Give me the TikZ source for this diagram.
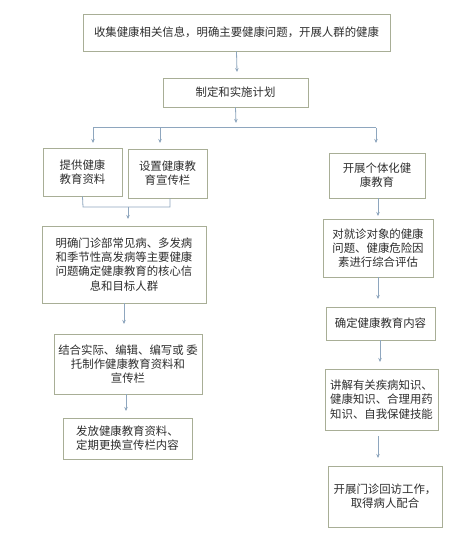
\documentclass[tikz,border=0pt]{standalone}
\usepackage{fontspec}
\setmainfont{Noto Sans CJK SC}
\usetikzlibrary{arrows.meta}
\definecolor{boxc}{HTML}{A8AE96}
\definecolor{linec}{HTML}{8EA6BE}
\definecolor{txtc}{HTML}{2E2E2E}
\tikzset{
  bx/.style={draw=boxc, line width=0.9pt, fill=white, align=center, inner sep=0pt,
    text=txtc, font=\fontsize{11.4}{14.2}\selectfont},
  ln/.style={draw=linec, line width=0.8pt},
  ar/.style={ln, -{Stealth[length=4pt,width=3.5pt]}}
}
\begin{document}
\begin{tikzpicture}[x=1pt,y=-1pt]
\useasboundingbox[fill=white] (0,0) rectangle (466,544);
% nodes
\node[bx, minimum width=307pt, minimum height=37pt] (b1) at (236.5,32.5) {收集健康相关信息，明确主要健康问题，开展人群的健康};
\node[bx, minimum width=145pt, minimum height=29pt] (b2) at (235.5,92.5) {制定和实施计划};
\node[bx, minimum width=79pt, minimum height=48pt] (b3) at (82.5,172) {提供健康\\教育资料};
\node[bx, minimum width=79pt, minimum height=49pt] (b4) at (167.5,173.5) {设置健康教\\育宣传栏};
\node[bx, minimum width=96pt, minimum height=45pt] (b5) at (377,175.5) {开展个体化健\\康教育};
\node[bx, minimum width=164pt, minimum height=77pt] (b6) at (124,264.5) {明确门诊部常见病、多发病\\和季节性高发病等主要健康\\问题确定健康教育的核心信\\息和目标人群};
\node[bx, minimum width=110pt, minimum height=58pt] (b7) at (378,248) {对就诊对象的健康\\问题、健康危险因\\素进行综合评估};
\node[bx, minimum width=109pt, minimum height=33pt] (b8) at (380.5,323.5) {确定健康教育内容};
\node[bx, minimum width=148pt, minimum height=60pt] (b9) at (128,364) {结合实际、编辑、编写或 委\\托制作健康教育资料和\\宣传栏};
\node[bx, minimum width=129pt, minimum height=41pt] (b10) at (127.5,438.5) {发放健康教育资料、\\定期更换宣传栏内容};
\node[bx, minimum width=113pt, minimum height=61pt] (b11) at (381.5,399.5) {讲解有关疾病知识、\\健康知识、合理用药\\知识、自我保健技能};
\node[bx, minimum width=114pt, minimum height=61pt] (b12) at (385,496.5) {开展门诊回访工作，\\取得病人配合};
% coordinates
\coordinate (a1) at (237,72);
\coordinate (a2) at (236,123);
\coordinate (hl) at (93,127.5);
\coordinate (hm) at (160,127.5);
\coordinate (hr) at (376,127.5);
\coordinate (e3) at (93,143);
\coordinate (e4) at (160,143);
\coordinate (e5) at (376,143);
\coordinate (k1) at (83,207);
\coordinate (k2) at (170,207);
\coordinate (km) at (128,207);
\coordinate (e6) at (128,219);
\coordinate (e7) at (378,216);
\coordinate (e8) at (378,299);
\coordinate (s9) at (124,303);
\coordinate (e9) at (124,324);
\coordinate (s10) at (126,394);
\coordinate (e10) at (126,411);
\coordinate (s11) at (380,340);
\coordinate (e11) at (380,362);
\coordinate (s12) at (378,436);
\coordinate (e12) at (378,458);
% connectors
\draw[ar] (b1.south) -- (a1);
\draw[ar] (b2.south) -- (a2);
\draw[ln] (hl) -- (hr);
\draw[ar] (hl) -- (e3);
\draw[ar] (hm) -- (e4);
\draw[ar] (hr) -- (e5);
\draw[ln] (b3.south) -- (k1) -- (k2) -- (b4.south -| k2);
\draw[ar] (km) -- (e6);
\draw[ar] (b5.south -| e7) -- (e7);
\draw[ar] (b7.south -| e8) -- (e8);
\draw[ar] (s9) -- (e9);
\draw[ar] (s10) -- (e10);
\draw[ar] (s11) -- (e11);
\draw[ar] (s12) -- (e12);
\end{tikzpicture}
\end{document}
